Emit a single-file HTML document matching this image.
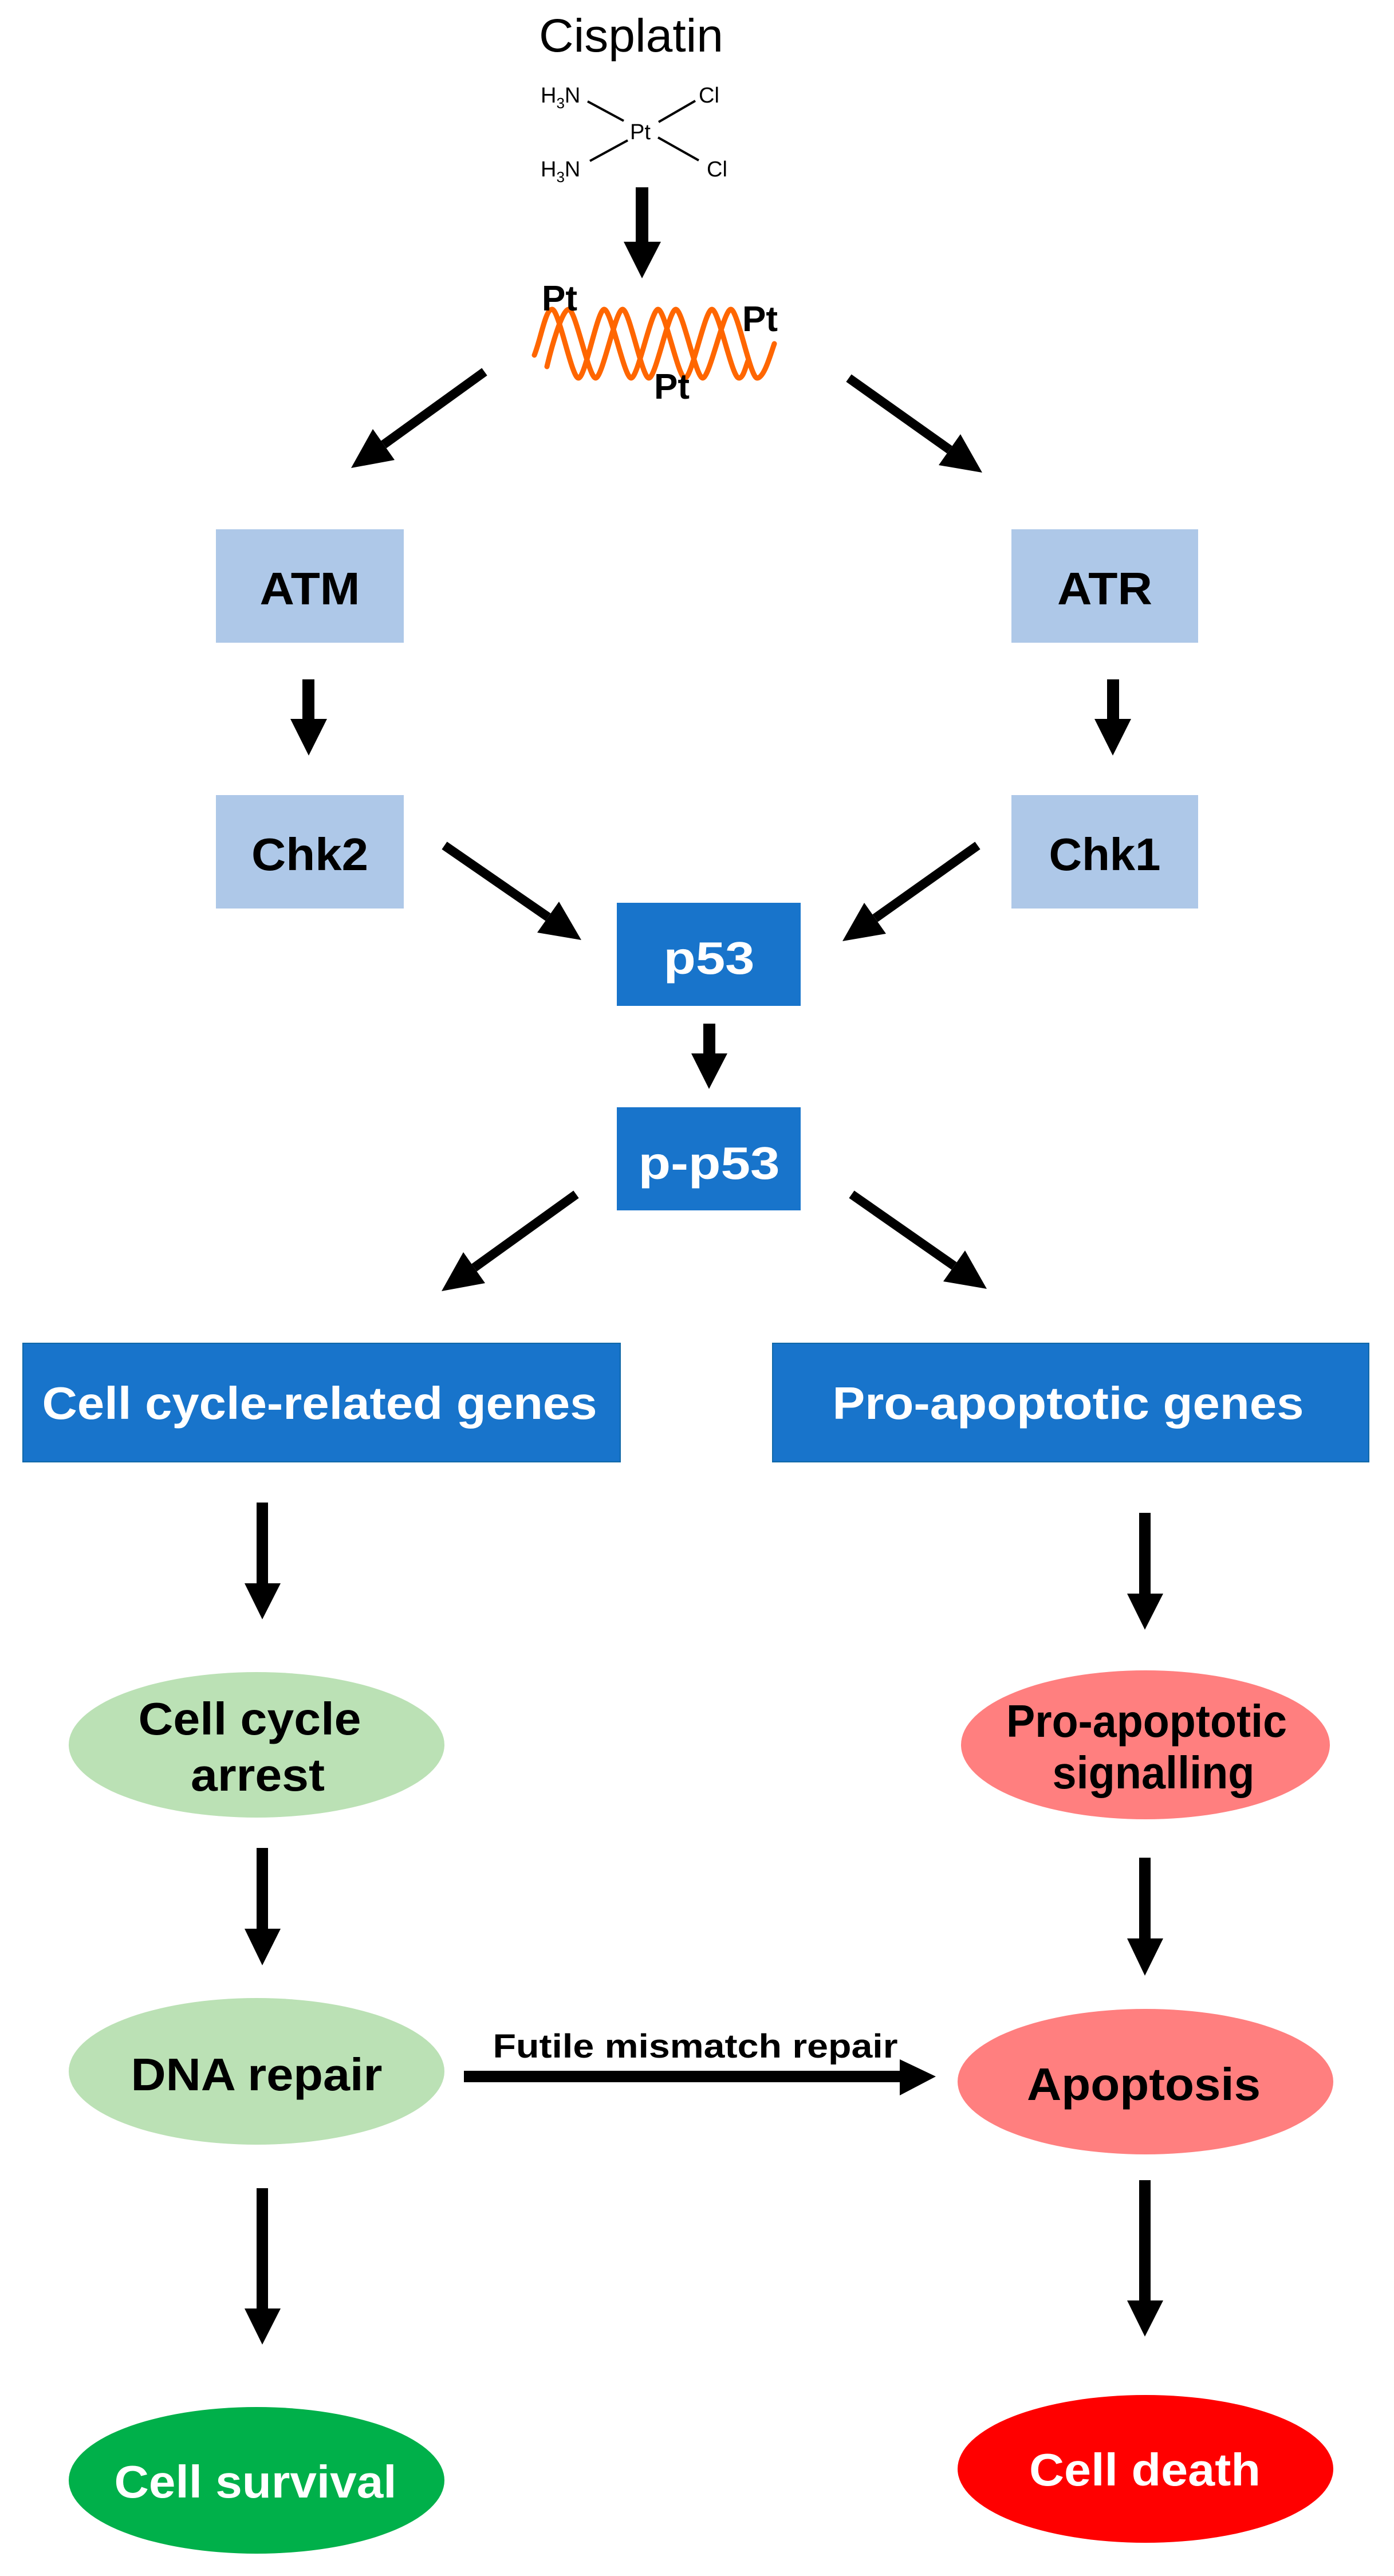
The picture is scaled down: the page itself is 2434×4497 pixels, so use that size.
<!DOCTYPE html>
<html><head><meta charset="utf-8"><style>
html,body{margin:0;padding:0;background:#fff;}
svg{display:block;}
text{font-family:"Liberation Sans",Arial,sans-serif;}
.b{font-weight:bold;}
</style></head><body>
<svg width="2434" height="4497" viewBox="0 0 2434 4497" xmlns="http://www.w3.org/2000/svg">
<rect width="2434" height="4497" fill="#fff"/>
<!-- Cisplatin -->
<text x="941" y="90" font-size="82" textLength="322" lengthAdjust="spacingAndGlyphs">Cisplatin</text>
<g font-size="38">
<text x="944" y="179">H<tspan font-size="26" dy="10">3</tspan><tspan dy="-10">N</tspan></text>
<text x="1220" y="179">Cl</text>
<text x="1100" y="243">Pt</text>
<text x="944" y="308">H<tspan font-size="26" dy="10">3</tspan><tspan dy="-10">N</tspan></text>
<text x="1234" y="308">Cl</text>
</g>
<g stroke="#000" stroke-width="4">
<line x1="1026" y1="177" x2="1089" y2="211"/>
<line x1="1150" y1="213" x2="1214" y2="176"/>
<line x1="1096" y1="245" x2="1030" y2="281"/>
<line x1="1149" y1="240" x2="1220" y2="280"/>
</g>
<g fill="#000">
<rect x="1110" y="327" width="22" height="96"/>
<polygon points="1089,422 1154,422 1121,486"/>
</g>
<!-- DNA helix -->
<g fill="none" stroke="#FF6600" stroke-width="9" stroke-linecap="round" stroke-linejoin="round">
<path d="M933,620 C945,590 952,540 964,540 C976,540 998,660 1010,660 C1022,660 1043,540 1055,540 C1067,540 1090,660 1102,660 C1114,660 1137,540 1149,540 C1161,540 1184,660 1196,660 C1208,660 1231,540 1243,540 C1255,540 1278,660 1290,660 C1298,660 1302,640 1306,630"/>
<path d="M955,640 C962,610 981,540 993,540 C1005,540 1028,660 1040,660 C1052,660 1075,540 1087,540 C1099,540 1121,660 1133,660 C1145,660 1168,540 1180,540 C1192,540 1215,660 1227,660 C1239,660 1264,540 1276,540 C1288,540 1310,660 1322,660 C1334,660 1345,620 1352,600"/>
</g>
<g class="b" font-size="62" fill="#000">
<text x="946" y="542" class="b">Pt</text>
<text x="1296" y="578" class="b">Pt</text>
<text x="1142" y="696" class="b">Pt</text>
</g>
<!-- diagonal arrows -->
<g stroke="#000" stroke-width="16">
<line x1="846" y1="649" x2="670" y2="776"/>
<line x1="1482" y1="660" x2="1658" y2="785"/>
<line x1="776" y1="1476" x2="957" y2="1601"/>
<line x1="1707" y1="1476" x2="1528" y2="1603"/>
<line x1="1006" y1="2085" x2="828" y2="2213"/>
<line x1="1487" y1="2085" x2="1666" y2="2210"/>
</g>
<g fill="#000">
<polygon points="613,817 689,803 651,749"/>
<polygon points="1715,825 1639,812 1677,758"/>
<polygon points="1015,1641 938,1628 976,1574"/>
<polygon points="1471,1643 1547,1630 1509,1576"/>
<polygon points="771,2254 847,2240 809,2186"/>
<polygon points="1723,2250 1647,2237 1685,2183"/>
</g>
<!-- boxes -->
<rect x="377" y="924" width="328" height="198" fill="#AEC8E8"/>
<rect x="1766" y="924" width="326" height="198" fill="#AEC8E8"/>
<rect x="377" y="1388" width="328" height="198" fill="#AEC8E8"/>
<rect x="1766" y="1388" width="326" height="198" fill="#AEC8E8"/>
<rect x="1077" y="1576" width="321" height="180" fill="#1874CB"/>
<rect x="1077" y="1933" width="321" height="180" fill="#1874CB"/>
<rect x="40" y="2345" width="1043" height="207" fill="#1874CB" stroke="#1068A8" stroke-width="2"/>
<rect x="1349" y="2345" width="1041" height="207" fill="#1874CB" stroke="#1068A8" stroke-width="2"/>
<g class="b" font-size="80" text-anchor="middle">
<text x="541" y="1055" textLength="175" lengthAdjust="spacingAndGlyphs">ATM</text>
<text x="1929" y="1055" textLength="166" lengthAdjust="spacingAndGlyphs">ATR</text>
<text x="541" y="1519" textLength="204" lengthAdjust="spacingAndGlyphs">Chk2</text>
<text x="1929" y="1519" textLength="195" lengthAdjust="spacingAndGlyphs">Chk1</text>
<text x="1238" y="1700" fill="#fff" textLength="159" lengthAdjust="spacingAndGlyphs">p53</text>
<text x="1238" y="2058" fill="#fff" textLength="247" lengthAdjust="spacingAndGlyphs">p-p53</text>
<text x="558" y="2477" fill="#fff" textLength="969" lengthAdjust="spacingAndGlyphs">Cell cycle-related genes</text>
<text x="1865" y="2477" fill="#fff" textLength="823" lengthAdjust="spacingAndGlyphs">Pro-apoptotic genes</text>
</g>
<!-- vertical arrows -->
<g fill="#000">
<rect x="528" y="1186" width="21" height="70"/><polygon points="507,1255 571,1255 539,1319"/>
<rect x="1933" y="1186" width="21" height="70"/><polygon points="1911,1255 1975,1255 1943,1319"/>
<rect x="1228" y="1787" width="21" height="53"/><polygon points="1207,1839 1270,1839 1238,1901"/>
<rect x="448" y="2623" width="20" height="142"/><polygon points="427,2764 490,2764 458,2827"/>
<rect x="1989" y="2641" width="20" height="142"/><polygon points="1968,2782 2031,2782 1999,2845"/>
<rect x="448" y="3226" width="20" height="142"/><polygon points="427,3367 490,3367 458,3431"/>
<rect x="1989" y="3243" width="20" height="142"/><polygon points="1968,3384 2031,3384 1999,3449"/>
<rect x="448" y="3820" width="20" height="211"/><polygon points="427,4030 490,4030 458,4093"/>
<rect x="1989" y="3806" width="20" height="211"/><polygon points="1968,4016 2031,4016 1999,4079"/>
<rect x="810" y="3615" width="762" height="20"/><polygon points="1571,3595 1571,3658 1634,3625"/>
</g>
<!-- ellipses -->
<ellipse cx="448" cy="3046" rx="328" ry="127" fill="#BBE1B5"/>
<ellipse cx="2000" cy="3046" rx="322" ry="130" fill="#FF7F7F"/>
<ellipse cx="448" cy="3616" rx="328" ry="128" fill="#BBE1B5"/>
<ellipse cx="2000" cy="3634" rx="328" ry="127" fill="#FF7F7F"/>
<ellipse cx="448" cy="4330" rx="328" ry="128" fill="#00B04A"/>
<ellipse cx="2000" cy="4310" rx="328" ry="129" fill="#FF0000"/>
<g class="b" font-size="80" text-anchor="middle">
<text x="436" y="3028" textLength="389" lengthAdjust="spacingAndGlyphs">Cell cycle</text>
<text x="450" y="3126" textLength="234" lengthAdjust="spacingAndGlyphs">arrest</text>
<text x="2002" y="3032" textLength="490" lengthAdjust="spacingAndGlyphs">Pro-apoptotic</text>
<text x="2014" y="3122" textLength="353" lengthAdjust="spacingAndGlyphs">signalling</text>
<text x="448" y="3649" textLength="439" lengthAdjust="spacingAndGlyphs">DNA repair</text>
<text x="1997" y="3666" textLength="408" lengthAdjust="spacingAndGlyphs">Apoptosis</text>
<text x="446" y="4360" fill="#fff" textLength="493" lengthAdjust="spacingAndGlyphs">Cell survival</text>
<text x="1999" y="4339" fill="#fff" textLength="404" lengthAdjust="spacingAndGlyphs">Cell death</text>
<text x="1214" y="3592" font-size="58" textLength="707" lengthAdjust="spacingAndGlyphs">Futile mismatch repair</text>
</g>
</svg>
</body></html>
